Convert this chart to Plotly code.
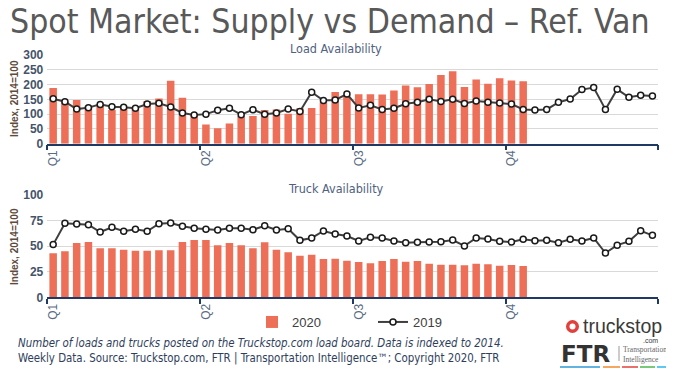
import plotly.graph_objects as go

# ---------------- data ----------------
weeks = list(range(1, 53))
quarters = ["Q1", "Q2", "Q3", "Q4"]
quarter_start_weeks = [1, 14, 27, 40]

load_2020 = [188, 142, 148, 128, 130, 114, 120, 120, 144, 153, 213, 155, 97, 65, 52, 68, 93,
             94, 114, 116, 101, 120, 121, 140, 175, 159, 167, 167, 166, 180, 197, 191, 202, 232, 245, 192,
             217, 203, 221, 214, 211]
load_2019 = [152, 142, 117, 122, 133, 125, 123, 120, 134, 137, 124, 104, 97, 100, 113, 120, 98,
             115, 100, 104, 117, 109, 174, 146, 148, 168, 121, 130, 116, 120, 135, 140, 150, 143, 150, 136,
             144, 140, 138, 134, 116, 114, 116, 140, 151, 183, 190, 116, 184, 157, 164, 161]
truck_2020 = [43, 45, 53, 54, 48, 48, 46.6, 45.6, 45.6, 46, 46, 54, 56, 56, 51, 53, 51,
              48, 53.7, 46.6, 44, 40.7, 41.7, 37.5, 37.8, 35.8, 34.5, 33.2, 35.5, 37.5, 34.8, 35.5, 32.9, 31.9, 31.9, 31.4,
              32.9, 32.2, 30.9, 31.6, 30.6]
truck_2019 = [51.5, 72.3, 71.7, 71, 63.8, 68.4, 64.5, 66.4, 64.5, 72, 72.6, 69.4, 67.4, 66.4, 65.8, 67.4, 67.4,
              66, 70, 65.8, 67, 55.7, 58, 64.8, 61.9, 59.9, 55, 58.6, 58, 55, 53.4, 53.7, 54, 54.4, 56, 50.2,
              58, 57, 54.7, 54, 56.7, 55.4, 55.7, 53.4, 56.7, 55, 58, 43.3, 51, 54.7, 65, 60.6]

series_names = ["2020", "2019"]
panel_titles = ["Load Availability", "Truck Availability"]
y_title = "Index, 2014=100"
title = "Spot Market: Supply vs Demand \u2013 Ref. Van"
note1 = "Number of loads and trucks posted on the Truckstop.com load board. Data is indexed to 2014."
note2 = "Weekly Data. Source: Truckstop.com, FTR | Transportation Intelligence\u2122; Copyright 2020, FTR"

# ---------------- style ----------------
OFF = 8              # page body margin
W, H = 674 - OFF, 372 - OFF
BAR = "#EE6F57"
LINE = "#3F3F3F"
AXIS = "#1F3864"
TICK = "#44546A"
GRID = "#D9D9D9"
NARROW = "DejaVu Sans Condensed, Liberation Sans Narrow, DejaVu Sans, sans-serif"
ARIAL = "Liberation Sans, Arial, sans-serif"

def px_x(x):
    return (x - OFF) / W

def px_y(y):
    return 1 - (y - OFF) / H

fig = go.Figure()

panels = [(load_2020, load_2019, "x", "y", True), (truck_2020, truck_2019, "x2", "y2", False)]
for v20, v19, xa, ya, show in panels:
    fig.add_trace(go.Bar(x=weeks[:len(v20)], y=v20, name=series_names[0], marker_color=BAR,
                         marker_line_width=0, width=0.64, xaxis=xa, yaxis=ya, showlegend=show))
    fig.add_trace(go.Scatter(x=weeks[:len(v19)], y=v19, name=series_names[1], mode="lines+markers",
                             line=dict(color=LINE, width=2),
                             marker=dict(size=6, color="white", line=dict(color="#1a1a1a", width=1.5)),
                             xaxis=xa, yaxis=ya, showlegend=show))

x_dom = [px_x(47.3), px_x(658.3)]
xcommon = dict(range=[0.5, 52.5], domain=x_dom, showgrid=False, zeroline=False,
               showline=True, linecolor=AXIS, linewidth=1.5,
               tickmode="array", tickvals=quarter_start_weeks, ticktext=quarters,
               ticks="", tickangle=-90, tickfont=dict(family=ARIAL, size=12, color="#5A6B85"),
               minor=dict(tickmode="array", tickvals=[0.5, 13.5, 26.5, 39.5, 52.5],
                          ticks="outside", ticklen=5, tickcolor=AXIS, tickwidth=1.5, showgrid=False))
ycommon = dict(showgrid=True, gridcolor=GRID, gridwidth=1, zeroline=False, showline=False,
               tickfont=dict(family=ARIAL, size=12, color=TICK, weight="bold"), ticklabelstandoff=3)

fig.update_layout(
    width=W, height=H, margin=dict(l=0, r=0, t=0, b=0, autoexpand=False),
    paper_bgcolor="white", plot_bgcolor="white",
    bargap=0.3,
    xaxis=dict(anchor="y", **xcommon),
    xaxis2=dict(anchor="y2", **xcommon),
    yaxis=dict(anchor="x", domain=[px_y(143.7), px_y(55)], range=[0, 300], dtick=50, **ycommon),
    yaxis2=dict(anchor="x2", domain=[px_y(297.3), px_y(195)], range=[0, 100], dtick=25, **ycommon),
    legend=dict(orientation="h", x=px_x(252), xanchor="left", y=px_y(322), yanchor="middle",
                font=dict(family=ARIAL, size=13, color="#404040"), bgcolor="rgba(0,0,0,0)",
                entrywidth=76, traceorder="normal"),
    showlegend=True,
)

ann = []
ann.append(dict(text=title, x=px_x(8), y=px_y(22), xanchor="left", yanchor="middle",
                font=dict(family=NARROW, size=33.5, color="#595959")))
for t, yy in zip(panel_titles, [48, 188]):
    ann.append(dict(text=t, x=px_x(336), y=px_y(yy), xanchor="center", yanchor="middle",
                    font=dict(family=NARROW, size=12.5, color="#4F6180")))
for yy in [99, 247]:
    ann.append(dict(text=y_title, x=px_x(14), y=px_y(yy), xanchor="center", yanchor="middle",
                    textangle=-90, font=dict(family=ARIAL, size=10, color="#5E4B3C", weight="bold")))
ann.append(dict(text="<i>" + note1 + "</i>", x=px_x(16), y=px_y(343), xanchor="left", yanchor="middle",
                font=dict(family=NARROW, size=11.4, color="#2E3E5C")))
ann.append(dict(text=note2, x=px_x(16), y=px_y(358), xanchor="left", yanchor="middle",
                font=dict(family=NARROW, size=11.4, color="#2E3E5C")))
# logos (text-based)
ann.append(dict(text="truckstop", x=px_x(581), y=px_y(326), xanchor="left", yanchor="middle",
                font=dict(family=ARIAL, size=19.5, color="#3A3A3A")))
ann.append(dict(text=".com", x=px_x(660), y=px_y(340), xanchor="right", yanchor="middle",
                font=dict(family=ARIAL, size=7, color="#3A3A3A")))
ann.append(dict(text="<b>FTR</b>", x=px_x(559), y=px_y(354), xanchor="left", yanchor="middle",
                font=dict(family="DejaVu Sans, sans-serif", size=23, color="#333333")))
ann.append(dict(text="Transportation<br>Intelligence", x=px_x(621), y=px_y(354.5), xanchor="left",
                yanchor="middle", align="left",
                font=dict(family="Liberation Serif, serif", size=7.5, color="#666666")))
for a in ann:
    a.update(xref="paper", yref="paper", showarrow=False)
fig.update_layout(annotations=ann)

shapes = [
    dict(type="circle", xref="paper", yref="paper", x0=px_x(566), x1=px_x(579), y0=px_y(333), y1=px_y(320),
         fillcolor="#E2403A", line=dict(width=0)),
    dict(type="circle", xref="paper", yref="paper", x0=px_x(569.5), x1=px_x(575.5), y0=px_y(329.5), y1=px_y(323.5),
         fillcolor="white", line=dict(width=0)),
    dict(type="line", xref="paper", yref="paper", x0=px_x(619), x1=px_x(619), y0=px_y(346), y1=px_y(361),
         line=dict(color="#999999", width=1)),
]
for c, a, b in [("#2E9BD6", 560, 600), ("#F08A2B", 603, 620), ("#E2403A", 622, 638),
                ("#4CB848", 640, 655), ("#29B6E8", 657, 670)]:
    shapes.append(dict(type="line", xref="paper", yref="paper", x0=px_x(a), x1=px_x(b),
                       y0=px_y(367), y1=px_y(367), line=dict(color=c, width=1.5)))
fig.update_layout(shapes=shapes)

fig.write_html("out.html")
